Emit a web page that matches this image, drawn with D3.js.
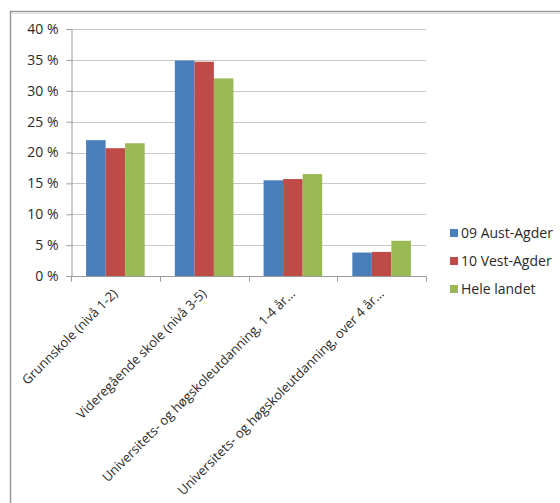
<!DOCTYPE html>
<html><head><meta charset="utf-8">
<script src="https://cdn.jsdelivr.net/npm/d3@7"></script>
<style>body{margin:0;background:#fff}svg{display:block}text{font-family:"Open Sans","Liberation Sans",sans-serif;fill:#2a2a2a}</style>
</head><body>
<svg id="c" width="560" height="503"></svg>
<script>
const categories = ["Grunnskole (nivå 1-2)", "Videregående skole (nivå 3-5)", "Universitets- og høgskoleutdanning, 1-4 år...", "Universitets- og høgskoleutdanning, over 4 år..."];
const seriesNames = ["09 Aust-Agder", "10 Vest-Agder", "Hele landet"];
const seriesColors = ["#4a7ebb", "#be4b48", "#98b954"];
const austAgder = [22.0, 34.9, 15.5, 3.8];
const vestAgder = [20.7, 34.7, 15.7, 3.9];
const heleLandet = [21.5, 32.0, 16.5, 5.7];
const series = [austAgder, vestAgder, heleLandet];
const yTicks = [0,5,10,15,20,25,30,35,40];

const svg = d3.select("#c");
// outer frame
svg.append("line").attr("x1",10.5).attr("x2",10.5).attr("y1",11.5).attr("y2",503).attr("stroke","#9a9a9a").attr("stroke-width",1.5);
svg.append("line").attr("x1",10).attr("x2",560).attr("y1",11.5).attr("y2",11.5).attr("stroke","#9a9a9a").attr("stroke-width",1.5);
svg.append("line").attr("x1",12).attr("x2",560).attr("y1",13.5).attr("y2",13.5).attr("stroke","#e4e4e4").attr("stroke-width",1);

const pL=71, pR=426, pT=29, pB=276;
const x = d3.scaleBand().domain(categories).range([pL,pR]).paddingInner(0.34).paddingOuter(0.17);
const xs = d3.scaleBand().domain(d3.range(series.length)).range([0,x.bandwidth()]);
const y = d3.scaleLinear().domain([0,40]).range([pB,pT]);

// gridlines
svg.append("g").selectAll("line").data(yTicks.slice(1)).join("line")
  .attr("x1",pL).attr("x2",pR).attr("y1",d=>Math.round(y(d))+0.5).attr("y2",d=>Math.round(y(d))+0.5)
  .attr("stroke","#c8c8c8");

// bars
const xb = d3.scaleBand().domain(categories).range([pL,pR]);
series.forEach((s,si)=>{
  svg.append("g").selectAll("rect").data(s).join("rect")
    .attr("x",(d,i)=>x(categories[i])+xs(si))
    .attr("width",xs.bandwidth())
    .attr("y",d=>y(d)).attr("height",d=>y(0)-y(d))
    .attr("fill",seriesColors[si]);
});

// y axis
const ya = svg.append("g").attr("transform",`translate(${pL+0.5},0)`)
  .call(d3.axisLeft(y).tickValues(yTicks).tickSize(5).tickPadding(8).tickFormat(d=>d+" %"));
ya.select(".domain").attr("stroke","#9a9a9a");
ya.selectAll(".tick line").attr("stroke","#9a9a9a");
ya.selectAll("text").attr("font-size","14px").attr("fill","#2a2a2a");

// x axis
const xa = svg.append("g").attr("transform",`translate(0,${pB+0.5})`);
xa.append("line").attr("x1",pL).attr("x2",pR).attr("stroke","#9a9a9a");
const tickPos = categories.map(c=>xb(c)).concat([pR]);
xa.selectAll(".tk").data(tickPos).join("line").attr("class","tk")
  .attr("x1",d=>Math.round(d)+0.5).attr("x2",d=>Math.round(d)+0.5).attr("y1",0).attr("y2",5).attr("stroke","#9a9a9a");
xa.selectAll("text").data(categories).join("text")
  .attr("text-anchor","end").attr("font-size","13px")
  .attr("transform",d=>`translate(${xb(d)+xb.bandwidth()/2+3},${18}) rotate(-45)`)
  .text(d=>d);

// legend
const lg = svg.append("g");
seriesNames.forEach((n,i)=>{
  const yy = 233 + i*28;
  lg.append("rect").attr("x",450).attr("y",yy-4).attr("width",8).attr("height",8).attr("fill",seriesColors[i]);
  lg.append("text").attr("x",461).attr("y",yy).attr("dy","0.35em").attr("font-size","14px").text(n);
});
</script>
</body></html>
